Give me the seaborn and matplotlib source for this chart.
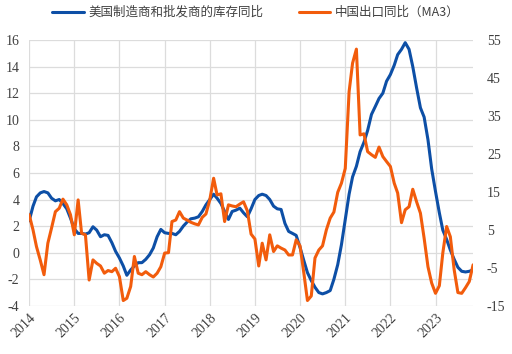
import numpy as np
import pandas as pd
import seaborn as sns
import matplotlib.pyplot as plt
import matplotlib.dates as mdates

# monthly data, Jan 2014 - Nov 2023
months = pd.date_range("2014-01-01", periods=119, freq="MS")

us_inventory_yoy = [
    2.4, 3.5, 4.2, 4.5, 4.6, 4.5, 4.1, 3.9, 4.0, 3.7, 3.3, 2.6,
    1.8, 1.45, 1.45, 1.4, 1.5, 1.95, 1.7, 1.2, 1.35, 1.3, 0.75, 0.1,
    -0.4, -1.0, -1.7, -1.3, -1.0, -0.75, -0.75, -0.5, -0.15, 0.35, 1.2, 1.75,
    1.5, 1.45, 1.45, 1.35, 1.6, 2.0, 2.3, 2.55, 2.6, 2.7, 3.1, 3.6,
    4.0, 4.4, 4.1, 3.7, 3.1, 2.5, 3.1, 3.2, 3.35, 3.0, 2.7, 3.3,
    4.0, 4.3, 4.4, 4.3, 4.0, 3.5, 3.3, 3.25, 2.2, 1.6, 1.45, 1.3,
    0.4, -0.6, -1.5, -2.1, -2.6, -3.0, -3.1, -3.0, -2.85, -2.0, -0.9, 0.6,
    2.5, 4.4, 5.7, 6.5, 7.6, 8.3, 9.2, 10.4, 11.0, 11.6, 12.0, 12.9,
    13.4, 14.1, 14.9, 15.3, 15.8, 15.3, 14.0, 12.4, 10.9, 10.2, 8.5, 6.3,
    4.6, 3.0, 1.7, 1.0, 0.2, -0.5, -1.1, -1.4, -1.45, -1.4, -1.3,
]

china_export_ma3 = [
    9.0, 5.0, 0.6, -3.0, -6.8, 1.5, 5.5, 9.8, 10.7, 13.1, 11.6, 9.0,
    3.7, 12.9, 4.1, 3.7, -8.2, -2.9, -3.8, -4.5, -6.4, -5.7, -6.0, -5.1,
    -7.3, -13.6, -13.0, -9.9, -2.0, -6.4, -6.8, -6.0, -6.8, -7.4, -6.4, -4.7,
    -1.1, -1.0, 7.2, 7.6, 9.8, 8.1, 7.6, 7.0, 6.6, 6.3, 8.3, 9.2,
    12.9, 18.6, 14.2, 14.5, 7.2, 11.6, 11.3, 11.1, 11.8, 12.4, 10.0, 3.9,
    2.6, -4.5, 1.5, -2.9, 3.7, -0.7, 0.8, 0.2, -0.3, -1.6, -1.6, 2.4,
    0.8, -6.4, -13.6, -12.4, -2.4, -0.3, 0.8, 5.0, 8.1, 9.7, 14.9, 17.3,
    21.2, 41.4, 48.9, 52.6, 30.0, 30.3, 25.6, 24.8, 24.1, 26.8, 24.3, 23.0,
    21.7, 17.3, 14.7, 6.9, 10.3, 11.1, 15.7, 12.4, 9.4, 2.8, -4.7, -9.0,
    -11.7, -9.7, -1.1, 5.9, 3.2, -5.5, -11.5, -11.7, -10.2, -8.6, -4.2,
]

label_us = "美国制造商和批发商的库存同比"
label_cn = "中国出口同比（MA3）"

df = pd.DataFrame({"month": months, "us": us_inventory_yoy, "cn": china_export_ma3})

sns.set_style("white")
plt.rcParams["font.family"] = ["Liberation Serif", "DejaVu Serif", "Noto Sans CJK SC"]
plt.rcParams["axes.unicode_minus"] = False

blue = "#0D4FA6"
orange = "#F25C0C"
grid_c = "#DCDCDC"
text_c = "#404040"

fig, ax = plt.subplots(figsize=(5.12, 3.54), dpi=100)
fig.subplots_adjust(left=0.057, right=0.924, top=0.887, bottom=0.136)
ax2 = ax.twinx()

sns.lineplot(data=df, x="month", y="us", ax=ax, color=blue, lw=2.2, label=label_us, legend=False)
sns.lineplot(data=df, x="month", y="cn", ax=ax2, color=orange, lw=2.2, label=label_cn, legend=False)

ax.set_ylim(-4, 16)
ax.set_yticks(np.arange(-4, 17, 2))
ax2.set_ylim(-15, 55)
ax2.set_yticks(np.arange(-15, 56, 10))
ax.set_xlim(months[0], months[-1])
ax.xaxis.set_major_locator(mdates.YearLocator())
ax.xaxis.set_major_formatter(mdates.DateFormatter("%Y"))

ax.grid(True, color=grid_c, lw=0.9)
ax.set_axisbelow(True)
ax.set_xlabel("")
ax.set_ylabel("")
ax2.set_ylabel("")
for a in (ax, ax2):
    for s in a.spines.values():
        s.set_visible(False)
    a.tick_params(length=0, labelsize=10, labelcolor=text_c)
ax.tick_params(axis="y", pad=7)
ax2.tick_params(axis="y", pad=10)
plt.setp(ax.get_xticklabels(), rotation=45, ha="right", rotation_mode="anchor")
ax.tick_params(axis="x", pad=4)

h1, l1 = ax.get_legend_handles_labels()
h2, l2 = ax2.get_legend_handles_labels()
fig.legend(h1 + h2, l1 + l2, loc="upper center", bbox_to_anchor=(0.5, 1.015), ncol=2,
           frameon=False, prop={"family": ["Noto Sans CJK SC"], "size": 9},
           labelcolor=text_c, handlelength=2.5, columnspacing=2.8, handletextpad=0.4)

fig.savefig("out.png", dpi=100)
